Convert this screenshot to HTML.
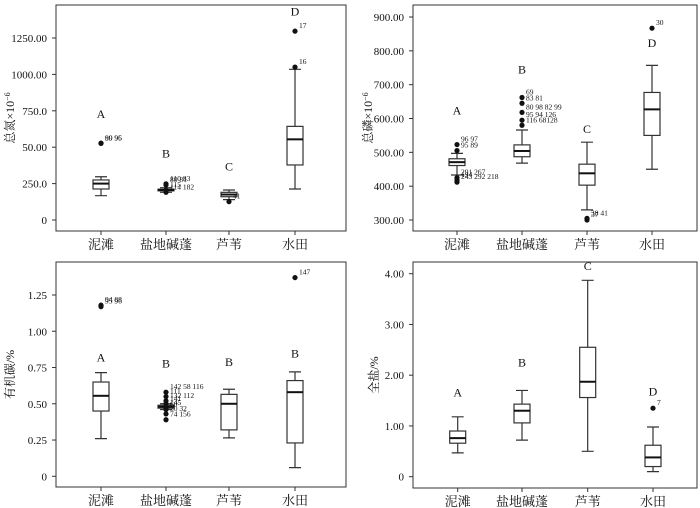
<!DOCTYPE html>
<html><head><meta charset="utf-8">
<style>
html,body{margin:0;padding:0;background:#fff;}
svg{display:block;}
text{font-family:"Liberation Serif","Noto Serif CJK SC",serif;fill:#111;}
</style></head>
<body>
<svg id="c" width="700" height="508" viewBox="0 0 700 508"></svg>
<script>
const categories = ["泥滩","盐地碱蓬","芦苇","水田"];

// Panel 1: 总氮
const p1Ticks = [0,250,500,750,1000,1250];
const p1TickLabels = ["0","250.0","50.00","750.0","1000.00","1250.00"];
const p1Q1 = [213,200,160,378];
const p1Med = [250,206,175,554];
const p1Q3 = [275,212,190,643];
const p1Lo = [167,190,140,213];
const p1Hi = [297,222,206,1035];
const p1Letters = ["A","B","C","D"];
const p1LetterVals = [700,430,340,1405];
const p1Outliers = [[0,527,"90 95"],[0,527,"89 96"],[1,248,"110 83"],[1,240,"80 81"],[1,205,"115"],[1,190,"114 182"],[2,126,"41"],[3,1050,"16"],[3,1297,"17"]];

// Panel 2: 总磷
const p2Ticks = [300,400,500,600,700,800,900];
const p2TickLabels = ["300.00","400.00","500.00","600.00","700.00","800.00","900.00"];
const p2Q1 = [461,487,403,550];
const p2Med = [471,504,438,627];
const p2Q3 = [481,522,465,677];
const p2Lo = [433,468,330,450];
const p2Hi = [497,566,530,757];
const p2Letters = ["A","B","C","D"];
const p2LetterVals = [612,733,557,812];
const p2Outliers = [[0,523,"96 97"],[0,505,"95 89"],[0,425,"291 267"],[0,418,"194"],[0,412,"243 292 218"],[1,580,"116 68128"],[1,595,"95 94 126"],[1,618,"80 98 82 99"],[1,645,"83 81"],[1,662,"69"],[2,305,"38 41"],[2,300,"37"],[3,867,"30"]];

// Panel 3: 有机碳
const p3Ticks = [0,0.25,0.5,0.75,1.0,1.25];
const p3TickLabels = ["0","0.25","0.50","0.75","1.00","1.25"];
const p3Q1 = [0.45,0.47,0.32,0.23];
const p3Med = [0.555,0.48,0.50,0.58];
const p3Q3 = [0.65,0.49,0.565,0.66];
const p3Lo = [0.26,0.46,0.265,0.06];
const p3Hi = [0.715,0.50,0.60,0.72];
const p3Letters = ["A","B","B","B"];
const p3LetterVals = [0.79,0.75,0.76,0.82];
const p3Outliers = [[0,1.18,"94 88"],[0,1.17,"95 96"],[1,0.58,"142 58 116"],[1,0.55,"111"],[1,0.52,"132 112"],[1,0.50,"141"],[1,0.47,"145"],[1,0.46,"60"],[1,0.43,"50 32"],[1,0.39,"74 156"],[3,1.37,"147"]];

// Panel 4: 全盐
const p4Ticks = [0,1,2,3,4];
const p4TickLabels = ["0","1.00","2.00","3.00","4.00"];
const p4Q1 = [0.66,1.06,1.56,0.20];
const p4Med = [0.76,1.30,1.87,0.38];
const p4Q3 = [0.90,1.43,2.55,0.62];
const p4Lo = [0.47,0.72,0.50,0.10];
const p4Hi = [1.18,1.70,3.87,0.98];
const p4Letters = ["A","B","C","D"];
const p4LetterVals = [1.58,2.17,4.07,1.60];
const p4Outliers = [[3,1.35,"7"]];

const NS="http://www.w3.org/2000/svg";
const svg=document.getElementById("c");
function mk(tag,attrs,parent){const e=document.createElementNS(NS,tag);for(const k in attrs)e.setAttribute(k,attrs[k]);(parent||svg).appendChild(e);return e;}

function panel(cfg){
  const g=mk("g",{});
  
  
  const y=v=>cfg.y0+(v-cfg.v0)*(cfg.y1-cfg.y0)/(cfg.v1-cfg.v0);
  const x=i=>cfg.xs[i];
  const frame=mk("rect",{x:cfg.fl,y:cfg.ft,width:cfg.fr-cfg.fl,height:cfg.fb-cfg.ft,fill:"none",stroke:"#333","stroke-width":1},g);
  
  
  cfg.ticks.forEach((t,i)=>{
    const yy=y(t);
    const tk=mk("line",{x1:cfg.fl-4,x2:cfg.fl,y1:yy,y2:yy,stroke:"#333"},g);
    
    
    const tl=mk("text",{x:cfg.fl-9,y:yy+4,"text-anchor":"end","font-size":11},g);
    tl.textContent=cfg.tickLabels[i];
    
    
  });
  categories.forEach((c,i)=>{
    const tk=mk("line",{x1:x(i),x2:x(i),y1:cfg.fb,y2:cfg.fb+4,stroke:"#333"},g);
    
    
    const tl=mk("text",{x:x(i),y:cfg.fb+18,"text-anchor":"middle","font-size":13},g);
    tl.textContent=c;
    
    
    const hw=8,cw=6;
    const wh=mk("path",{d:`M${x(i)},${y(cfg.hi[i])}V${y(cfg.q3[i])}M${x(i)},${y(cfg.q1[i])}V${y(cfg.lo[i])}M${x(i)-cw},${y(cfg.hi[i])}H${x(i)+cw}M${x(i)-cw},${y(cfg.lo[i])}H${x(i)+cw}`,stroke:"#333","stroke-width":1.2,fill:"none"},g);
    
    
    const bx=mk("rect",{x:x(i)-hw,y:y(cfg.q3[i]),width:hw*2,height:Math.max(1,y(cfg.q1[i])-y(cfg.q3[i])),fill:"#fff",stroke:"#333","stroke-width":1.2},g);
    
    
    const md=mk("line",{x1:x(i)-hw,x2:x(i)+hw,y1:y(cfg.med[i]),y2:y(cfg.med[i]),stroke:"#111","stroke-width":2},g);
    
    
    const lt=mk("text",{x:x(i),y:y(cfg.letterVals[i]),"text-anchor":"middle","font-size":12},g);
    lt.textContent=cfg.letters[i];
    
    
  });
  cfg.outliers.forEach(o=>{
    const cx=x(o[0]),cy=y(o[1]);
    const d=mk("circle",{cx:cx,cy:cy,r:2.6,fill:"#111"},g);
    
    
    const t=mk("text",{x:cx+4,y:cy-3,"font-size":7.5},g);
    t.textContent=o[2];
    
    
  });
  const at=mk("text",{x:0,y:0,"text-anchor":"middle","font-size":12,transform:`translate(${cfg.tx},${(cfg.ft+cfg.fb)/2}) rotate(-90)`},g);
  at.innerHTML=cfg.title;
  
  
}

panel({name:"total-nitrogen-panel",fl:56,ft:5,fr:346,fb:231,v0:0,y0:220,v1:1250,y1:38,xs:[101,166,229,295],
 ticks:p1Ticks,tickLabels:p1TickLabels,q1:p1Q1,med:p1Med,q3:p1Q3,lo:p1Lo,hi:p1Hi,letters:p1Letters,letterVals:p1LetterVals,outliers:p1Outliers,
 tx:14,title:'总氮×10<tspan baseline-shift="super" font-size="8">−6</tspan>'});
panel({name:"total-phosphorus-panel",fl:413,ft:5,fr:697,fb:231,v0:300,y0:220,v1:900,y1:17,xs:[457,522,587,652],
 ticks:p2Ticks,tickLabels:p2TickLabels,q1:p2Q1,med:p2Med,q3:p2Q3,lo:p2Lo,hi:p2Hi,letters:p2Letters,letterVals:p2LetterVals,outliers:p2Outliers,
 tx:372,title:'总磷×10<tspan baseline-shift="super" font-size="8">−6</tspan>'});
panel({name:"organic-carbon-panel",fl:56,ft:262,fr:346,fb:487,v0:0,y0:476.3,v1:1.25,y1:295,xs:[101,166,229,295],
 ticks:p3Ticks,tickLabels:p3TickLabels,q1:p3Q1,med:p3Med,q3:p3Q3,lo:p3Lo,hi:p3Hi,letters:p3Letters,letterVals:p3LetterVals,outliers:p3Outliers,
 tx:14,title:'有机碳/%'});
panel({name:"total-salt-panel",fl:413,ft:262,fr:697,fb:488,v0:0,y0:476.7,v1:4,y1:273.7,xs:[457.7,522,587.7,653],
 ticks:p4Ticks,tickLabels:p4TickLabels,q1:p4Q1,med:p4Med,q3:p4Q3,lo:p4Lo,hi:p4Hi,letters:p4Letters,letterVals:p4LetterVals,outliers:p4Outliers,
 tx:378,title:'全盐/%'});
</script>
</body></html>
